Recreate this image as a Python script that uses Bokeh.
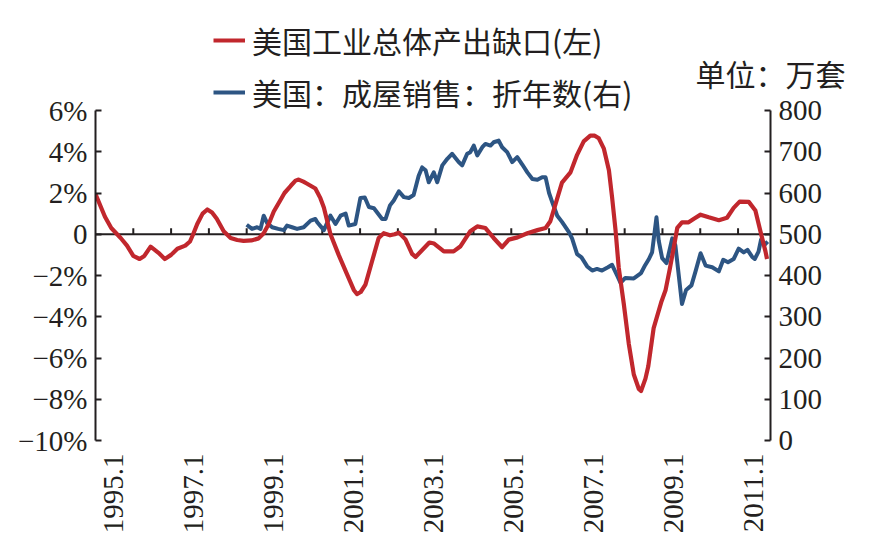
import math
from bokeh.plotting import figure
from bokeh.models import (Range1d, LinearAxis, FixedTicker, Legend, LegendItem, Label)
from bokeh.embed import file_html
from bokeh.resources import INLINE

# ---- data (months counted from 1995.1 = 0) ----
red_month = [0, 3, 5, 8, 10, 12, 14, 15.5, 17.5, 20, 22, 24, 26, 28.5, 30, 31, 32.3, 34, 35.5, 37,
             38.5, 40.7, 42.9, 45, 47, 49.5, 51.8, 53.4, 55, 56.6, 58.5, 60, 62, 63.5, 64.5, 66,
             67.2, 69.8, 71.4, 72.5, 74.6, 77.2, 79.9, 82, 83, 84.2, 85.7, 87.8, 89.9, 91.5, 93.5,
             95, 96.3, 98.4, 100.5, 101.6, 103.2, 106, 107.5, 110.6, 113.7, 115.9, 119, 121.2,
             123.8, 126.4, 129.1, 131.2, 134, 137.1, 140.3, 142.9, 144.4, 146, 148.1, 150.8, 152.9,
             155, 157.1, 158.5, 159.8, 161.4, 163, 164, 165.1, 166.1, 167.7, 169.3, 170.9, 172.5,
             173.2, 174.6, 175.5, 177.2, 179.6, 181, 182.3, 183.4, 184.7, 186.2, 188.3, 190, 192.1,
             194.7, 197.9, 200.5, 202.6, 204.5, 207.4, 209.5, 211.1, 212.7, 213.2]
red_value = [1.95, 0.85, 0.3, -0.18, -0.55, -1.05, -1.2, -1.05, -0.6, -0.9, -1.2, -1.0, -0.7, -0.55,
             -0.35, 0.0, 0.5, 1.0, 1.2, 1.05, 0.75, 0.15, -0.18, -0.28, -0.32, -0.3, -0.2, 0.05, 0.5,
             1.1, 1.6, 2.0, 2.35, 2.6, 2.65, 2.55, 2.45, 2.22, 1.75, 1.3, 0.0, -1.0, -1.96, -2.7,
             -2.9, -2.8, -2.44, -1.31, -0.18, 0.05, -0.05, 0.0, 0.08, -0.25, -0.95, -1.1, -0.85,
             -0.4, -0.45, -0.83, -0.83, -0.58, 0.15, 0.38, 0.3, -0.18, -0.63, -0.26, -0.15, 0.05,
             0.2, 0.3, 0.63, 1.44, 2.5, 3.0, 3.85, 4.5, 4.78, 4.78, 4.65, 4.15, 3.1, 1.8, 0.2, -1.6,
             -3.35, -5.3, -6.8, -7.5, -7.6, -7.0, -6.4, -4.55, -3.3, -2.7, -1.7, -0.8, 0.31, 0.58,
             0.58, 0.75, 0.95, 0.82, 0.68, 0.8, 1.28, 1.58, 1.57, 1.15, 0.15, -0.83, -1.2]

blue_month = [48, 49.7, 51.3, 52.4, 53.4, 54.5, 56.1, 58, 59.8, 60.8, 62.4, 64, 66.1, 68.3, 69.8,
              70.4, 72.5, 74.6, 76.2, 77.8, 79.4, 80.4, 82.5, 84.1, 85.5, 86.8, 88.4, 91, 92.1,
              93.5, 94.7, 96.3, 97.9, 99.5, 101, 102.6, 103.7, 104.8, 105.8, 107.4, 108.5, 110.1,
              111.7, 113.2, 115.3, 116.4, 118, 119, 120.1, 121.2, 122.8, 123.8, 125.4, 126.4, 128,
              129.1, 130.7, 132.3, 133.9, 135.5, 137.1, 138.7, 140.3, 141.8, 142.9, 144, 145, 146.6,
              148.1, 150.3, 151.3, 152.9, 154.3, 156.1, 157.7, 159.2, 160.8, 162.7, 164, 165.6,
              166.7, 168.2, 170.9, 173.2, 174.5, 175.7, 176.7, 178.1, 178.8, 179.9, 181.3, 183.1,
              184.1, 186.2, 187.5, 189.2, 190.5, 192.1, 193.7, 195.8, 197.9, 199.3, 200.8, 202.6,
              204.2, 205.8, 207, 208.5, 209.3, 210.5, 211.3, 212.4, 213.4]
blue_value = [523, 513, 517, 513, 545, 527, 517, 513, 510, 521, 517, 513, 517, 533, 537, 529, 510,
              545, 525, 545, 550, 521, 525, 588, 589, 566, 563, 537, 537, 570, 582, 604, 590, 588,
              595, 642, 662, 655, 626, 650, 626, 667, 683, 695, 675, 667, 695, 699, 715, 691, 711,
              719, 715, 723, 727, 711, 699, 675, 687, 669, 650, 634, 632, 638, 638, 600, 578, 545,
              530, 505, 490, 452, 444, 422, 412, 416, 412, 420, 426, 400, 382, 394, 393, 406, 425,
              440, 456, 541, 485, 442, 430, 490, 473, 331, 365, 376, 410, 454, 424, 420, 410, 438,
              432, 440, 465, 456, 462, 445, 440, 458, 487, 474, 482]

x_labels = ["1995.1", "1997.1", "1999.1", "2001.1", "2003.1", "2005.1", "2007.1", "2009.1", "2011.1"]
left_ticks = [-10, -8, -6, -4, -2, 0, 2, 4, 6]
right_ticks = [0, 100, 200, 300, 400, 500, 600, 700, 800]

series_names = ["美国工业总体产出缺口(左)", "美国：成屋销售：折年数(右)"]
unit_text = "单位：万套"

RED = "#C1272D"
BLUE = "#2D5583"
INK = "#231F20"
SERIF = "Liberation Serif"
CJK = "Noto Sans CJK SC"
FS = "29px"
FS_CJK = "30px"

# geometry of the canvas (pixels)
W, H = 880, 555
B_LEFT, B_BOTTOM = 95, 100
AX_TOP, AX_BOT = 110.0, 440.0          # page y of the top / bottom value-axis ticks
plot_px_w = 675.0                      # pixel width between the two value axes
axis_px = AX_BOT - AX_TOP
frame_h = H - B_BOTTOM                 # frame reaches the top of the canvas
frame_w = W - B_LEFT                   # frame reaches the right edge of the canvas
l_lo, l_hi = left_ticks[0], left_ticks[-1]
r_lo, r_hi = right_ticks[0], right_ticks[-1]
l_per_px = (l_hi - l_lo) / axis_px
r_per_px = (r_hi - r_lo) / axis_px
l_range = (l_lo - (frame_h - AX_BOT) * l_per_px, l_hi + AX_TOP * l_per_px)
r_range = (r_lo - (frame_h - AX_BOT) * r_per_px, r_hi + AX_TOP * r_per_px)

x_end = 214.3                          # month at the right value axis
x_max = x_end * frame_w / plot_px_w
label_start, label_step = 5.7, 25.4
label_pos = [label_start + i * label_step for i in range(len(x_labels))]

p = figure(width=W, height=H, output_backend="svg", toolbar_location=None,
           x_range=Range1d(0, x_max), y_range=Range1d(*l_range),
           min_border_left=B_LEFT, min_border_right=0, min_border_top=0,
           min_border_bottom=B_BOTTOM)
p.outline_line_color = None
p.grid.visible = False
p.background_fill_color = "white"
p.border_fill_color = "white"
p.extra_y_ranges = {"right": Range1d(*r_range)}

# bottom axis: only labels
xa = p.xaxis[0]
xa.ticker = FixedTicker(ticks=label_pos)
xa.major_label_overrides = {pos: lab for pos, lab in zip(label_pos, x_labels)}
xa.axis_line_color = None
xa.major_tick_line_color = None
xa.minor_tick_line_color = None
xa.major_label_orientation = math.pi / 2
xa.major_label_standoff = int(AX_BOT + 7 - frame_h)
xa.major_label_text_font = SERIF
xa.major_label_text_font_size = FS
xa.major_label_text_color = INK

def style_y(ax):
    ax.axis_line_color = INK
    ax.axis_line_width = 2
    ax.major_tick_in = 6
    ax.major_tick_out = 0
    ax.major_tick_line_width = 2
    ax.major_tick_line_color = INK
    ax.minor_tick_line_color = None
    ax.major_label_standoff = 8
    ax.major_label_text_font = SERIF
    ax.major_label_text_font_size = FS
    ax.major_label_text_color = INK

ya = p.yaxis[0]
ya.ticker = FixedTicker(ticks=left_ticks)
ya.bounds = (l_lo, l_hi)
ya.major_label_overrides = {t: ("0" if t == 0 else f"{t}%".replace("-", "\u2212")) for t in left_ticks}
style_y(ya)

ra = LinearAxis(y_range_name="right", ticker=FixedTicker(ticks=right_ticks), bounds=(r_lo, r_hi),
                fixed_location=x_end)
style_y(ra)
p.add_layout(ra, "right")

# zero line with yearly tick marks
p.line([0, x_end], [0, 0], line_color=INK, line_width=2)
year_ticks = list(range(12, int(x_end), 12))
tick_h = 6 * l_per_px
p.segment(x0=year_ticks, y0=[0] * len(year_ticks), x1=year_ticks, y1=[tick_h] * len(year_ticks),
          line_color=INK, line_width=2)

r_blue = p.line(blue_month, blue_value, y_range_name="right", line_color=BLUE, line_width=4,
                line_join="round")
r_red = p.line(red_month, red_value, line_color=RED, line_width=4.2, line_join="round")

legend = Legend(items=[LegendItem(label=series_names[0], renderers=[r_red]),
                       LegendItem(label=series_names[1], renderers=[r_blue])],
                location=(213 - B_LEFT, frame_h - 114), orientation="vertical",
                label_text_font=CJK, label_text_font_size=FS_CJK, label_text_color=INK,
                glyph_width=32, glyph_height=30, label_height=40, spacing=8,
                padding=0, margin=0, border_line_color=None, background_fill_alpha=0,
                label_standoff=7)
p.add_layout(legend)

p.add_layout(Label(x=695 - B_LEFT, y=frame_h - 72, x_units="screen", y_units="screen",
                   text=unit_text, text_font=CJK, text_font_size=FS_CJK, text_color=INK,
                   text_baseline="middle"))

open("out.html", "w").write(file_html(p, INLINE))
